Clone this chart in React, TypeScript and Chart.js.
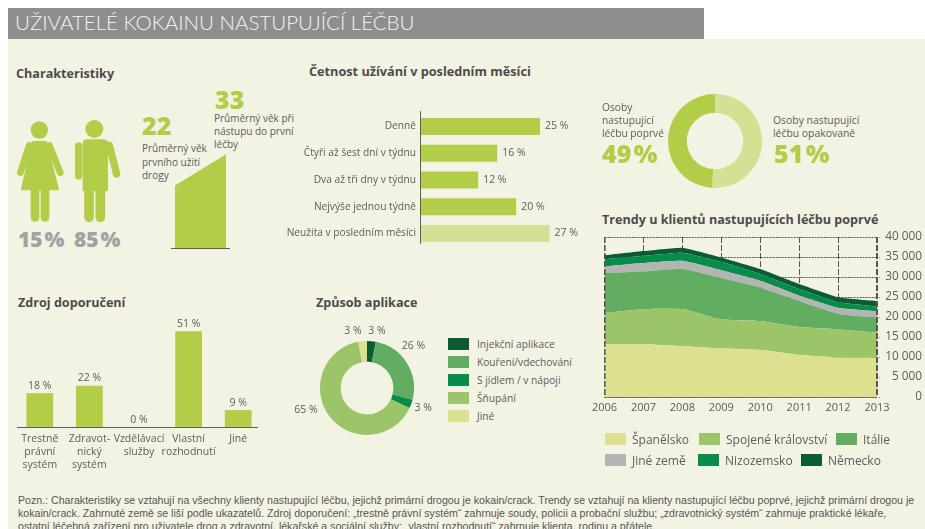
import React, { useEffect, useRef } from "react";
import { Chart, registerables } from "chart.js";

Chart.register(...registerables);

const FONT = "'Open Sans', sans-serif";
const GREEN = "#b2cd47";
const LIGHT = "#d3e195";
const TXT = "#5c5c5c";
const HEAD = "#4c4c4c";

// Četnost
const freqLabels = ["Denně", "Čtyři až šest dní v týdnu", "Dva až tři dny v týdnu", "Nejvýše jednou týdně", "Neužita v posledním měsíci"];
const freqValues = [25, 16, 12, 20, 27];
const freqColors = [GREEN, GREEN, GREEN, GREEN, LIGHT];

// Zdroj doporučení
const srcLabels = [["Trestně", "právní", "systém"], ["Zdravot-", "nický", "systém"], ["Vzdělávací", "služby"], ["Vlastní", "rozhodnutí"], ["Jiné"]];
const srcValues = [18, 22, 0, 51, 9];

// Věk
const ageValues = [22, 33];
const ageLabels = ["první užití", "první léčba"];

// Noví vs. opakovaní
const treatLabels = ["Osoby nastupující léčbu opakovaně", "Osoby nastupující léčbu poprvé"];
const treatValues = [51, 49];

// Způsob aplikace
const routeLabels = ["Injekční aplikace", "Kouření/vdechování", "S jídlem / v nápoji", "Šňupání", "Jiné"];
const routeValues = [3, 26, 3, 65, 3];
const routeColors = ["#0b5c34", "#62ad62", "#078c4a", "#9cc469", "#dde08f"];

// Trendy
const years = ["2006", "2007", "2008", "2009", "2010", "2011", "2012", "2013"];
const spain = [13200, 13200, 12700, 12150, 11800, 10500, 9900, 9900];
const uk = [7800, 8800, 9300, 7250, 7200, 7000, 7000, 6200];
const italy = [10000, 9400, 10100, 10350, 8400, 6500, 3900, 3650];
const other = [1650, 2100, 1950, 1950, 1700, 1400, 1500, 1650];
const netherlands = [1800, 1800, 2050, 2100, 1650, 1600, 1400, 1250];
const germany = [1000, 1200, 1250, 1100, 1250, 1250, 1250, 1350];
const trendSeries = [
  { label: "Španělsko", data: spain, color: "#dde08f" },
  { label: "Spojené království", data: uk, color: "#9cc469" },
  { label: "Itálie", data: italy, color: "#62ad62" },
  { label: "Jiné země", data: other, color: "#b4b5b3" },
  { label: "Nizozemsko", data: netherlands, color: "#078c4a" },
  { label: "Německo", data: germany, color: "#0b5c34" },
];
const trendLegendRows = [
  [{ i: 0, x: 605, tx: 632 }, { i: 1, x: 699, tx: 726 }, { i: 2, x: 836, tx: 863 }],
  [{ i: 3, x: 605, tx: 632 }, { i: 4, x: 698, tx: 725 }, { i: 5, x: 801, tx: 828 }],
];
const yTicks = [0, 5000, 10000, 15000, 20000, 25000, 30000, 35000, 40000];

const noteLines = [
  "Pozn.: Charakteristiky se vztahují na všechny klienty nastupující léčbu, jejichž primární drogou je kokain/crack. Trendy se vztahují na klienty nastupující léčbu poprvé, jejichž primární drogou je",
  "kokain/crack. Zahrnuté země se liší podle ukazatelů. Zdroj doporučení: „trestně právní systém“ zahrnuje soudy, policii a probační službu; „zdravotnický systém“ zahrnuje praktické lékaře,",
  "ostatní léčebná zařízení pro uživatele drog a zdravotní, lékařské a sociální služby; „vlastní rozhodnutí“ zahrnuje klienta, rodinu a přátele.",
];

const valueLabels = {
  id: "valueLabels",
  afterDatasetsDraw(chart: any) {
    const o = chart.options.plugins.valueLabels;
    if (!o || !o.on) return;
    const { ctx } = chart;
    ctx.save();
    ctx.font = `10.5px ${FONT}`;
    ctx.fillStyle = TXT;
    chart.getDatasetMeta(0).data.forEach((el: any, i: number) => {
      const v = chart.data.datasets[0].data[i];
      if (o.horizontal) {
        ctx.textAlign = "left";
        ctx.textBaseline = "middle";
        ctx.fillText(`${v} %`, el.x + 5, el.y);
      } else {
        ctx.textAlign = "center";
        ctx.textBaseline = "bottom";
        ctx.fillText(`${v} %`, el.x, el.y - 2);
      }
    });
    ctx.restore();
  },
};

const ringLabels = {
  id: "ringLabels",
  afterDatasetsDraw(chart: any) {
    const o = chart.options.plugins.ringLabels;
    if (!o || !o.on) return;
    const { ctx } = chart;
    ctx.save();
    ctx.font = `10.5px ${FONT}`;
    ctx.fillStyle = TXT;
    ctx.textAlign = "center";
    ctx.textBaseline = "middle";
    chart.getDatasetMeta(0).data.forEach((el: any, i: number) => {
      const mid = (el.startAngle + el.endAngle) / 2;
      const r = el.outerRadius;
      const [dx, dy] = o.nudges[i];
      ctx.fillText(`${chart.data.datasets[0].data[i]} %`, el.x + Math.cos(mid) * r + dx, el.y + Math.sin(mid) * r + dy);
    });
    ctx.restore();
  },
};

const baseLine = {
  id: "baseLine",
  afterDatasetsDraw(chart: any) {
    const o = chart.options.plugins.baseLine;
    if (!o || !o.on) return;
    const { ctx, chartArea: a } = chart;
    ctx.save();
    ctx.strokeStyle = "#5f5f5f";
    ctx.lineWidth = 1;
    ctx.beginPath();
    if (o.vertical) {
      ctx.moveTo(a.left - 0.5, a.top - o.pad[0]);
      ctx.lineTo(a.left - 0.5, a.bottom + o.pad[1]);
    } else {
      ctx.moveTo(a.left - o.pad[0], a.bottom + 0.5);
      ctx.lineTo(a.right + o.pad[1], a.bottom + 0.5);
    }
    ctx.stroke();
    ctx.restore();
  },
};

const edgeLines = {
  id: "edgeLines",
  afterDatasetsDraw(chart: any) {
    const { ctx, chartArea: a } = chart;
    ctx.save();
    ctx.strokeStyle = "#555";
    ctx.lineWidth = 1;
    ctx.setLineDash([6, 2]);
    ctx.beginPath();
    ctx.moveTo(a.left + 0.5, a.top);
    ctx.lineTo(a.left + 0.5, a.bottom);
    ctx.moveTo(a.right - 0.5, a.top);
    ctx.lineTo(a.right - 0.5, a.bottom);
    ctx.stroke();
    ctx.setLineDash([2, 1]);
    ctx.beginPath();
    ctx.moveTo(a.left, a.bottom + 0.5);
    ctx.lineTo(a.right, a.bottom + 0.5);
    ctx.stroke();
    ctx.restore();
  },
};

function Canvas({ box, make }: { box: number[]; make: (c: HTMLCanvasElement) => Chart }) {
  const ref = useRef<HTMLCanvasElement>(null);
  useEffect(() => {
    const chart = make(ref.current!);
    return () => chart.destroy();
  }, []);
  return (
    <div style={{ position: "absolute", left: box[0], top: box[1], width: box[2], height: box[3] }}>
      <canvas ref={ref} width={box[2]} height={box[3]} style={{ display: "block" }} />
    </div>
  );
}

const noLegend = { legend: { display: false }, tooltip: { enabled: false } };

function T({ x, y, s, c, b, w, lh, children, ff, ws }: any) {
  return (
    <div
      style={{
        position: "absolute", left: x, top: y, fontSize: s ?? 10, color: c ?? TXT, fontWeight: b ?? 400,
        width: w, lineHeight: lh ? `${lh}px` : undefined, fontFamily: ff ?? FONT,
        whiteSpace: w ? "normal" : "nowrap", wordSpacing: ws,
      }}
    >
      {children}
    </div>
  );
}

function Swatch({ x, y, w, h, c }: any) {
  return <div style={{ position: "absolute", left: x, top: y, width: w, height: h, background: c }} />;
}

export default function App() {
  return (
    <div style={{ position: "absolute", left: 0, top: 0, width: 925, height: 529, overflow: "hidden", background: "#fff", fontFamily: FONT }}>
      <div style={{ position: "absolute", left: 8, top: 39, width: 917, height: 490, background: "#f3f3e4" }} />
      <div style={{ position: "absolute", left: 8, top: 8, width: 696, height: 31, background: "#8e8e8e" }} />
      <T x={15} y={10} s={20.5} b={300} c="#f4f4ee" ff="Lato, sans-serif">UŽIVATELÉ KOKAINU NASTUPUJÍCÍ LÉČBU</T>

      <T x={16} y={65} s={12.6} b={700} c={HEAD}>Charakteristiky</T>
      <T x={309} y={62} s={12.7} b={700} c={HEAD}>Četnost užívání v posledním měsíci</T>
      <T x={18} y={294} s={12.6} b={700} c={HEAD}>Zdroj doporučení</T>
      <T x={316} y={294} s={12.6} b={700} c={HEAD}>Způsob aplikace</T>
      <T x={602} y={211} s={12.6} b={700} c={HEAD}>Trendy u klientů nastupujících léčbu poprvé</T>

      {/* figures */}
      <svg style={{ position: "absolute", left: 10, top: 110 }} width={120} height={145} viewBox="0 0 360 435">
        <g fill={GREEN} stroke={GREEN} strokeLinecap="round" strokeLinejoin="round">
          <circle cx="88" cy="60" r="26" stroke="none" />
          <path d="M68 96 H108 L144 238 H36 Z" strokeWidth="6" />
          <path d="M58 106 L31 188 M118 106 L151 188" strokeWidth="20" fill="none" />
          <path d="M75 240 V322 M105 240 V322" strokeWidth="26" fill="none" />
          <circle cx="253" cy="57" r="27" stroke="none" />
          <path d="M222 100 Q222 92 232 92 H278 Q290 92 290 100 V240 H222 Z" strokeWidth="8" />
          <path d="M206 108 V198 M298 106 L320 192" strokeWidth="22" fill="none" />
          <path d="M237 240 V322 M271 240 V322" strokeWidth="29" fill="none" />
        </g>
      </svg>
      <T x={18} y={225} s={21} b={800} c="#a2a2a2" ws={-3.5}>15 %</T>
      <T x={74} y={225} s={21} b={800} c="#a2a2a2" ws={-3.5}>85 %</T>

      <T x={142} y={108} s={25} b={800} c={GREEN}>22</T>
      <T x={142} y={142} s={10} lh={13.5} w={72}>Průměrný věk prvního užití drogy</T>
      <T x={215} y={82} s={25} b={800} c={GREEN}>33</T>
      <T x={214} y={112} s={10} lh={13} w={86}>Průměrný věk při nástupu do první léčby</T>

      <Canvas
        box={[165, 140, 70, 115]}
        make={(c) =>
          new Chart(c, {
            type: "line",
            data: { labels: ageLabels, datasets: [{ data: ageValues, borderWidth: 0, pointRadius: 0, backgroundColor: GREEN, fill: "origin" }] },
            plugins: [baseLine],
            options: {
              animation: false, responsive: false,
              layout: { autoPadding: false, padding: { left: 10, right: 9, top: 0, bottom: 7 } },
              plugins: { ...noLegend, baseLine: { on: true, pad: [4, 4] } } as any,
              scales: {
                x: { display: false, offset: false },
                y: { display: false, min: 0, max: 38 },
              },
            },
          })
        }
      />

      {/* Četnost */}
      <Canvas
        box={[270, 102, 320, 156]}
        make={(c) =>
          new Chart(c, {
            type: "bar",
            data: { labels: freqLabels, datasets: [{ data: freqValues, backgroundColor: freqColors, barPercentage: 0.64, categoryPercentage: 1 }] },
            plugins: [valueLabels, baseLine],
            options: {
              indexAxis: "y", animation: false, responsive: false,
              layout: { autoPadding: false },
              plugins: { ...noLegend, valueLabels: { on: true, horizontal: true }, baseLine: { on: true, vertical: true, pad: [2, -3] } } as any,
              scales: {
                x: { display: false, min: 0, max: 35.5 },
                y: {
                  afterFit(s: any) { s.width = 151; },
                  grid: { display: false, drawTicks: false }, border: { display: false },
                  ticks: { color: TXT, font: { size: 10.2, family: FONT }, padding: 5, autoSkip: false },
                },
              },
            },
          })
        }
      />

      {/* Zdroj */}
      <Canvas
        box={[0, 318, 280, 160]}
        make={(c) =>
          new Chart(c, {
            type: "bar",
            data: { labels: srcLabels as any, datasets: [{ data: srcValues, backgroundColor: GREEN, barPercentage: 0.54, categoryPercentage: 1 }] },
            plugins: [valueLabels, baseLine],
            options: {
              animation: false, responsive: false,
              layout: { autoPadding: false, padding: { left: 15, right: 17, top: 0 } },
              plugins: { ...noLegend, valueLabels: { on: true }, baseLine: { on: true, pad: [-2, -5] } } as any,
              scales: {
                y: { display: false, min: 0, max: 58 },
                x: {
                  afterFit(s: any) { s.height = 51; },
                  grid: { display: false, drawTicks: false }, border: { display: false },
                  ticks: { color: TXT, font: { size: 10.5, family: FONT, lineHeight: 1.27 }, padding: 5, autoSkip: false, maxRotation: 0 },
                },
              },
            },
          })
        }
      />

      {/* Kruh poprvé / opakovaně */}
      <Canvas
        box={[665, 91, 100, 100]}
        make={(c) =>
          new Chart(c, {
            type: "doughnut",
            data: { labels: treatLabels, datasets: [{ data: treatValues, backgroundColor: [LIGHT, GREEN], borderWidth: 0 }] },
            options: { animation: false, responsive: false, cutout: "60%", radius: 47, plugins: noLegend },
          })
        }
      />
      <T x={602} y={101} s={10.2} lh={13} w={70}>Osoby nastupující léčbu poprvé</T>
      <T x={602} y={136} s={25} b={800} c={GREEN} ws={-4}>49 %</T>
      <T x={773} y={114} s={10.4} lh={13} w={100}>Osoby nastupující léčbu opakovaně</T>
      <T x={774} y={136} s={25} b={800} c={GREEN} ws={-4}>51 %</T>

      {/* Způsob aplikace */}
      <Canvas
        box={[287, 325, 160, 126]}
        make={(c) =>
          new Chart(c, {
            type: "doughnut",
            data: { labels: routeLabels, datasets: [{ data: routeValues, backgroundColor: routeColors, borderWidth: 0 }] },
            plugins: [ringLabels],
            options: {
              animation: false, responsive: false, cutout: "56%", radius: 47,
              plugins: { ...noLegend, ringLabels: { on: true, nudges: [[5.6, -9.7], [6.7, -17], [12, 4], [-24, -6.5], [-9.6, -9.7]] } } as any,
            },
          })
        }
      />
      {routeLabels.map((l, i) => (
        <React.Fragment key={l}>
          <Swatch x={448} y={338 + i * 17.9} w={21} h={12} c={routeColors[i]} />
          <T x={477} y={337 + i * 17.9} s={10.2}>{l}</T>
        </React.Fragment>
      ))}

      {/* Trendy */}
      <Canvas
        box={[588, 226, 337, 190]}
        make={(c) =>
          new Chart(c, {
            type: "line",
            data: {
              labels: years,
              datasets: trendSeries.map((s, i) => ({
                label: s.label, data: s.data, backgroundColor: s.color, borderWidth: 0, pointRadius: 0,
                fill: i === 0 ? "origin" : "-1", tension: 0.12,
              })),
            },
            plugins: [edgeLines],
            options: {
              animation: false, responsive: false,
              layout: { autoPadding: false, padding: { left: 12, right: 3, top: 10, bottom: 0 } },
              plugins: noLegend,
              scales: {
                x: {
                  offset: false,
                  grid: { color: "#555", lineWidth: 1, drawTicks: false },
                  border: { display: false, dash: [6, 2], color: "#555" },
                  ticks: { color: TXT, font: { size: 11, family: FONT }, padding: 4, maxRotation: 0, autoSkip: false },
                  afterFit(s: any) { s.height = 19; },
                },
                y: {
                  position: "right", stacked: true, min: 0, max: 40000,
                  afterBuildTicks(s: any) { s.ticks = yTicks.map((value) => ({ value })); },
                  grid: { color: "#555", lineWidth: 1, drawTicks: true, tickLength: 5, tickColor: "#888", tickBorderDash: [1, 3], tickBorderDashOffset: 2 },
                  border: { display: false, color: "#555", dash: [2, 1] },
                  ticks: {
                    color: TXT, font: { size: 11.8, family: FONT }, padding: 4, crossAlign: "far",
                    callback: (v: any) => String(v).replace(/\B(?=(\d{3})+$)/g, " "),
                  },
                  afterFit(s: any) { s.width = 45; },
                },
              },
            },
          })
        }
      />
      {trendLegendRows.map((row, r) =>
        row.map((it) => (
          <React.Fragment key={it.i}>
            <Swatch x={it.x} y={433 + r * 20.5} w={21} h={12} c={trendSeries[it.i].color} />
            <T x={it.tx} y={431 + r * 20.5} s={12}>{trendSeries[it.i].label}</T>
          </React.Fragment>
        ))
      )}

      {/* Poznámka */}
      {noteLines.map((l, i) => (
        <T key={i} x={18} y={494 + i * 13} s={10.6} lh={13} ff="'Liberation Sans', sans-serif" c="#555">{l}</T>
      ))}
    </div>
  );
}
